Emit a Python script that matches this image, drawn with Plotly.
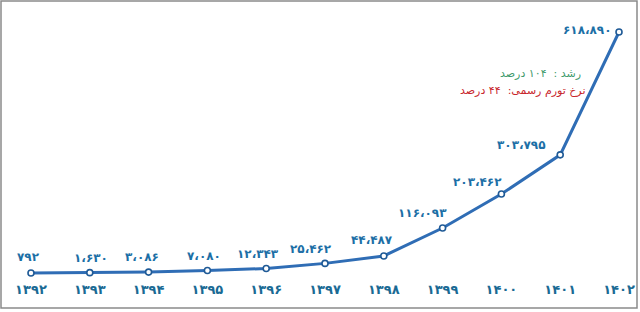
import plotly.graph_objects as go

years = [1392, 1393, 1394, 1395, 1396, 1397, 1398, 1399, 1400, 1401, 1402]
year_labels = ["۱۳۹۲", "۱۳۹۳", "۱۳۹۴", "۱۳۹۵", "۱۳۹۶", "۱۳۹۷", "۱۳۹۸", "۱۳۹۹", "۱۴۰۰", "۱۴۰۱", "۱۴۰۲"]
values = [792, 1630, 3086, 7080, 12343, 25462, 44487, 116093, 203462, 303795, 618890]
value_labels = ["۷۹۲", "۱،۶۳۰", "۳،۰۸۶", "۷،۰۸۰", "۱۲،۳۴۳", "۲۵،۴۶۲", "۴۴،۴۸۷",
                "۱۱۶،۰۹۳", "۲۰۳،۴۶۲", "۳۰۳،۷۹۵", "۶۱۸،۸۹۰"]
growth_text = "رشد :  ۱۰۴ درصد"
inflation_text = "نرخ تورم رسمی:  ۴۴ درصد"

# label placement (pixel offsets from each point), style only
label_dx = [-2, 1, -7, -3, -8, -14, -12, -20, -24, -39, -32]
label_dy = [16, 15, 15, 15, 15, 14, 16, 15, 12, 10, 2]

fig = go.Figure()
fig.add_trace(go.Scatter(
    x=years, y=values, mode="lines+markers",
    line=dict(color="#2f6db5", width=3),
    marker=dict(size=6, color="white", line=dict(color="#1f5a96", width=1.6)),
    hoverinfo="skip", showlegend=False, cliponaxis=False,
))

for xv, yv, t, dx, dy in zip(years, values, value_labels, label_dx, label_dy):
    fig.add_annotation(x=xv, y=yv, text=t, showarrow=False, xanchor="center", yanchor="middle",
                       xshift=dx, yshift=dy,
                       font=dict(family="DejaVu Sans", size=12, color="#1c6fa6", weight="bold"))

fig.add_annotation(x=583 / 640, y=(280 - 74) / 280, xref="paper", yref="paper",
                   text=growth_text, showarrow=False, xanchor="right", yanchor="middle",
                   font=dict(family="DejaVu Sans", size=11, color="#3f9a6c"))
fig.add_annotation(x=588 / 640, y=(280 - 91) / 280, xref="paper", yref="paper",
                   text=inflation_text, showarrow=False, xanchor="right", yanchor="middle",
                   font=dict(family="DejaVu Sans", size=11, color="#c8262c"))

fig.add_shape(type="rect", xref="paper", yref="paper",
              x0=1 / 640, x1=637 / 640, y0=(280 - 308) / 280, y1=(280 - 1) / 280,
              line=dict(color="#8a8a8a", width=1.5), layer="above")

fig.update_layout(
    width=640, height=312,
    margin=dict(l=0, r=0, t=0, b=32),
    paper_bgcolor="white", plot_bgcolor="white",
    xaxis=dict(range=[1391.473, 1402.357], tickvals=years, ticktext=year_labels,
               showgrid=False, zeroline=False, showline=False, ticks="",
               tickfont=dict(family="DejaVu Sans", size=13, color="#1a6a94", weight="bold")),
    yaxis=dict(range=[-17161, 700962], visible=False, showgrid=False, zeroline=False),
)

fig.write_html("out.html")
